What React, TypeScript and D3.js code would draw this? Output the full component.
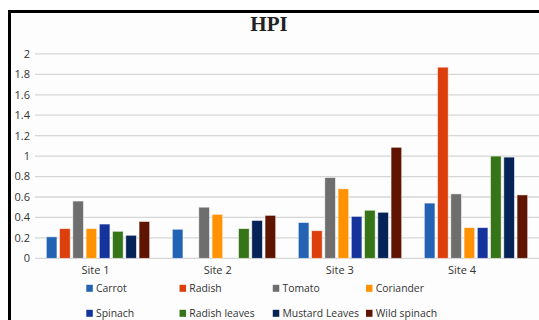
import React, { useEffect } from "react";
import * as d3 from "d3";

const sites = ["Site 1", "Site 2", "Site 3", "Site 4"];
const seriesNames = ["Carrot", "Radish", "Tomato", "Coriander", "Spinach", "Radish leaves", "Mustard Leaves", "Wild spinach"];
const seriesColors = ["#2462b3", "#dc3f0b", "#6e6e6e", "#ff9203", "#15349b", "#357417", "#052357", "#5f1400"];
const carrot = [0.21, 0.284, 0.35, 0.54];
const radish = [0.29, 0, 0.27, 1.87];
const tomato = [0.56, 0.5, 0.79, 0.63];
const coriander = [0.29, 0.43, 0.68, 0.3];
const spinach = [0.335, 0, 0.41, 0.3];
const radishLeaves = [0.264, 0.29, 0.47, 1.0];
const mustardLeaves = [0.225, 0.37, 0.45, 0.99];
const wildSpinach = [0.36, 0.42, 1.086, 0.62];
const yTicks = [0, 0.2, 0.4, 0.6, 0.8, 1, 1.2, 1.4, 1.6, 1.8, 2];
const title = "HPI";

const seriesValues = [carrot, radish, tomato, coriander, spinach, radishLeaves, mustardLeaves, wildSpinach];

export default function App() {
  useEffect(() => {
    document.body.style.margin = "0";
    document.body.style.overflow = "hidden";
  }, []);
  const W = 539, H = 320;
  const x0 = d3.scaleBand<string>().domain(sites).range([35, 539]).paddingInner(0.18).paddingOuter(0.09);
  const x1 = d3.scaleBand<string>().domain(seriesNames).range([0, x0.bandwidth()]).paddingInner(0.2).paddingOuter(0);
  const xLabel = d3.scalePoint<string>().domain(sites).range([95.5, 462]);
  const y = d3.scaleLinear().domain([0, 2]).range([258.3, 53.9]);
  const fmt = (v: number) => String(+v.toFixed(1));
  const font = "'Open Sans', sans-serif";
  const legendX = d3.scalePoint<number>().domain([0, 1, 2, 3]).range([86.3, 366]);
  const legendY = d3.scalePoint<number>().domain([0, 1]).range([288.3, 313.3]);

  return (
    <svg width={W} height={H} style={{ position: "absolute", left: 0, top: 0, display: "block", overflow: "hidden" }}>
      <rect x={0} y={0} width={W} height={H} fill="#ffffff" />
      <rect x={11} y={13} width={W} height={H} fill="#fdfdfd" />
      <path d={`M9.5,${H + 5} V11.5 H${W + 5}`} fill="none" stroke="#000" strokeWidth={3} />
      <text x={269} y={31} textAnchor="middle" fontFamily="'Liberation Serif', serif" fontWeight="bold" fontSize={21} fill="#222">{title}</text>
      {yTicks.map((t) => (
        <g key={t}>
          <line x1={35} x2={W} y1={y(t)} y2={y(t)} stroke="#d6d6d6" strokeWidth={1.3} />
          <text x={30} y={y(t)} dy="0.35em" textAnchor="end" fontFamily={font} fontSize={11} fill="#333">{fmt(t)}</text>
        </g>
      ))}
      {sites.map((s, i) => (
        <g key={s} transform={`translate(${x0(s)},0)`}>
          {seriesNames.map((n, j) => {
            const v = seriesValues[j][i];
            if (!v) return null;
            return (
              <rect key={n} x={x1(n)} y={y(v)} width={x1.bandwidth()} height={y(0) - y(v)}
                fill={seriesColors[j]} stroke="#ffffff" strokeOpacity={0.6} strokeWidth={0.8} />
            );
          })}
        </g>
      ))}
      {sites.map((s) => (
        <text key={s} x={xLabel(s)} y={274} textAnchor="middle" fontFamily={font} fontSize={11} fill="#333">{s}</text>
      ))}
      {seriesNames.map((n, j) => {
        const col = j % 4, row = Math.floor(j / 4);
        const lx = legendX(col)!, ly = legendY(row)!;
        return (
          <g key={n}>
            <rect x={lx} y={ly - 3.5} width={6.5} height={7} fill={seriesColors[j]} />
            <text x={lx + 9.7} y={ly} dy="0.35em" fontFamily={font} fontSize={10.4} fill="#333">{n}</text>
          </g>
        );
      })}
    </svg>
  );
}
